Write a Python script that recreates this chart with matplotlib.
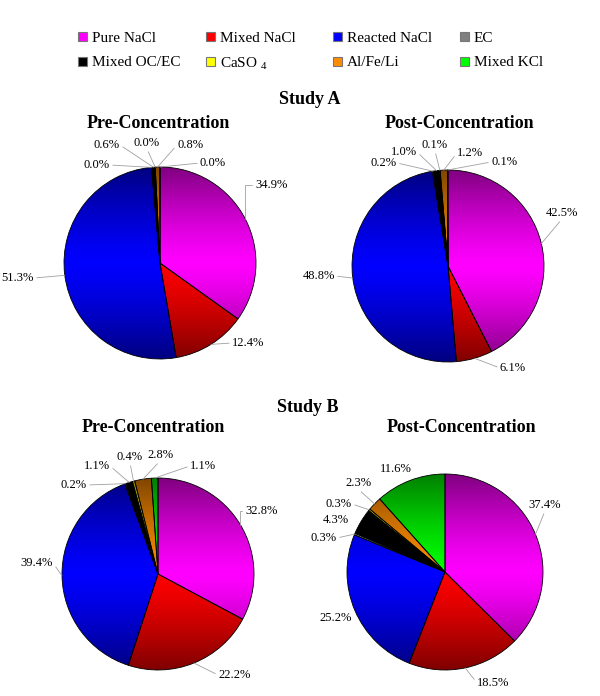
import numpy as np
import matplotlib
matplotlib.use("Agg")
import matplotlib.pyplot as plt
import matplotlib.colors as mcolors
from matplotlib.patches import Rectangle

plt.rcParams['font.family'] = ['Liberation Serif', 'DejaVu Serif']
plt.rcParams['mathtext.fontset'] = 'custom'
plt.rcParams['mathtext.rm'] = 'Liberation Serif'

# data
categories = ["Pure NaCl", "Mixed NaCl", "Reacted NaCl", "EC",
              "Mixed OC/EC", "CaSO $_{\\mathrm{4}}$", "Al/Fe/Li", "Mixed KCl"]
colors = ["#ff00ff", "#ff0000", "#0000ff", "#808080",
          "#000000", "#ffff00", "#ff8c00", "#00ff00"]

a_pre = [34.9, 12.4, 51.3, 0.0, 0.6, 0.0, 0.8, 0.0]
a_post = [42.5, 6.1, 48.8, 0.2, 1.0, 0.1, 1.2, 0.1]
b_pre = [32.8, 22.2, 39.4, 0.2, 1.1, 0.4, 2.8, 1.1]
b_post = [37.4, 18.5, 25.2, 0.3, 4.3, 0.3, 2.3, 11.6]

# layout (pixels, y from the top)
W, H = 600, 696


def Y(y):
    return H - y


ELB = "angle,angleA=0,angleB=90,rad=0"
pies = [
    (a_pre, (160, 263, 96),
     [(255, 185, 'left'), (232, 343, 'left'), (34, 278, 'right'),
      (110, 165, 'right'), (120, 145, 'right'), (147, 143, 'center'),
      (177, 145, 'left'), (200, 163, 'left')],
     [ELB, 1, 1, 1, 1, 1, 1, 1]),
    (a_post, (448, 266, 96),
     [(562, 213, 'center'), (500, 368, 'left'), (335, 276, 'right'),
      (397, 163, 'right'), (417, 152, 'right'), (435, 145, 'center'),
      (457, 153, 'left'), (491, 162, 'left')],
     [1, 1, 1, 1, 1, 1, 1, 1]),
    (b_pre, (158, 574, 96),
     [(245, 511, 'left'), (218, 675, 'left'), (53, 563, 'right'),
      (87, 485, 'right'), (110, 466, 'right'), (130, 457, 'center'),
      (160, 455, 'center'), (190, 466, 'left')],
     [ELB, 1, 1, 1, 1, 1, 1, 1]),
    (b_post, (445, 572, 98),
     [(545, 505, 'center'), (477, 683, 'left'), (336, 618, 'center'),
      (337, 538, 'right'), (336, 520, 'center'), (352, 504, 'right'),
      (358, 483, 'center'), (396, 469, 'center')],
     [1, 1, 0, 1, 0, 1, 1, 0]),
]

fig = plt.figure(figsize=(6, 6.96), dpi=100)
ax = fig.add_axes([0, 0, 1, 1])

t = np.linspace(-1, 1, 256)
shade = 1 - 0.5 * np.abs(t) ** 1.3

for vals, (cx, cy, r), labpos, leaders in pies:
    wedges, _ = ax.pie(vals, colors=colors, startangle=90, counterclock=False,
                       center=(cx, Y(cy)), radius=r,
                       wedgeprops=dict(edgecolor='black', linewidth=0.6))
    for w, c in zip(wedges, colors):
        rgb = np.array(mcolors.to_rgb(c))
        img = shade[:, None, None] * rgb[None, None, :]
        img = np.repeat(img, 2, axis=1)
        im = ax.imshow(img, extent=(cx - r, cx + r, Y(cy) - r, Y(cy) + r),
                       interpolation='bilinear', aspect='auto', zorder=1)
        im.set_clip_path(w)
        w.set_facecolor('none')
        w.set_zorder(2)

    for w, v, (tx, ty, ha), lead in zip(wedges, vals, labpos, leaders):
        mid = np.deg2rad((w.theta1 + w.theta2) / 2)
        edge = (cx + r * np.cos(mid), Y(cy) + r * np.sin(mid))
        txt = f"{v:.1f}%"
        if lead:
            relpos = {'left': (0, 0.5), 'right': (1, 0.5), 'center': (0.5, 0)}[ha]
            cs = lead if isinstance(lead, str) else "arc3"
            ax.annotate(txt, xy=edge, xytext=(tx, Y(ty)), ha=ha, va='center',
                        fontsize=9, zorder=3,
                        arrowprops=dict(arrowstyle='-', color='#a0a0a0', lw=0.6,
                                        shrinkA=0, shrinkB=0, relpos=relpos,
                                        connectionstyle=cs))
        else:
            ax.text(tx, Y(ty), txt, ha=ha, va='center', fontsize=9, zorder=3)

# titles
ax.text(310, Y(99), "Study A", fontsize=13, fontweight='bold', ha='center', va='center')
ax.text(158, Y(123), "Pre-Concentration", fontsize=13, fontweight='bold', ha='center', va='center')
ax.text(459, Y(123), "Post-Concentration", fontsize=13, fontweight='bold', ha='center', va='center')
ax.text(308, Y(407), "Study B", fontsize=13, fontweight='bold', ha='center', va='center')
ax.text(153, Y(428), "Pre-Concentration", fontsize=13, fontweight='bold', ha='center', va='center')
ax.text(461, Y(428), "Post-Concentration", fontsize=13, fontweight='bold', ha='center', va='center')

# legend
leg_x = [78, 206, 333, 460]
leg_y = [36.5, 61.5]
for i, (lab, c) in enumerate(zip(categories, colors)):
    x = leg_x[i % 4]
    y = leg_y[i // 4]
    ax.add_patch(Rectangle((x, Y(y) - 4.5), 9, 9, facecolor=c,
                           edgecolor='#777777', lw=0.8))
    ax.text(x + 14, Y(y), lab, fontsize=11, ha='left', va='center_baseline')

ax.set_xlim(0, W)
ax.set_ylim(0, H)
ax.set_aspect('auto')
ax.axis('off')

fig.savefig("out.png", dpi=100)
